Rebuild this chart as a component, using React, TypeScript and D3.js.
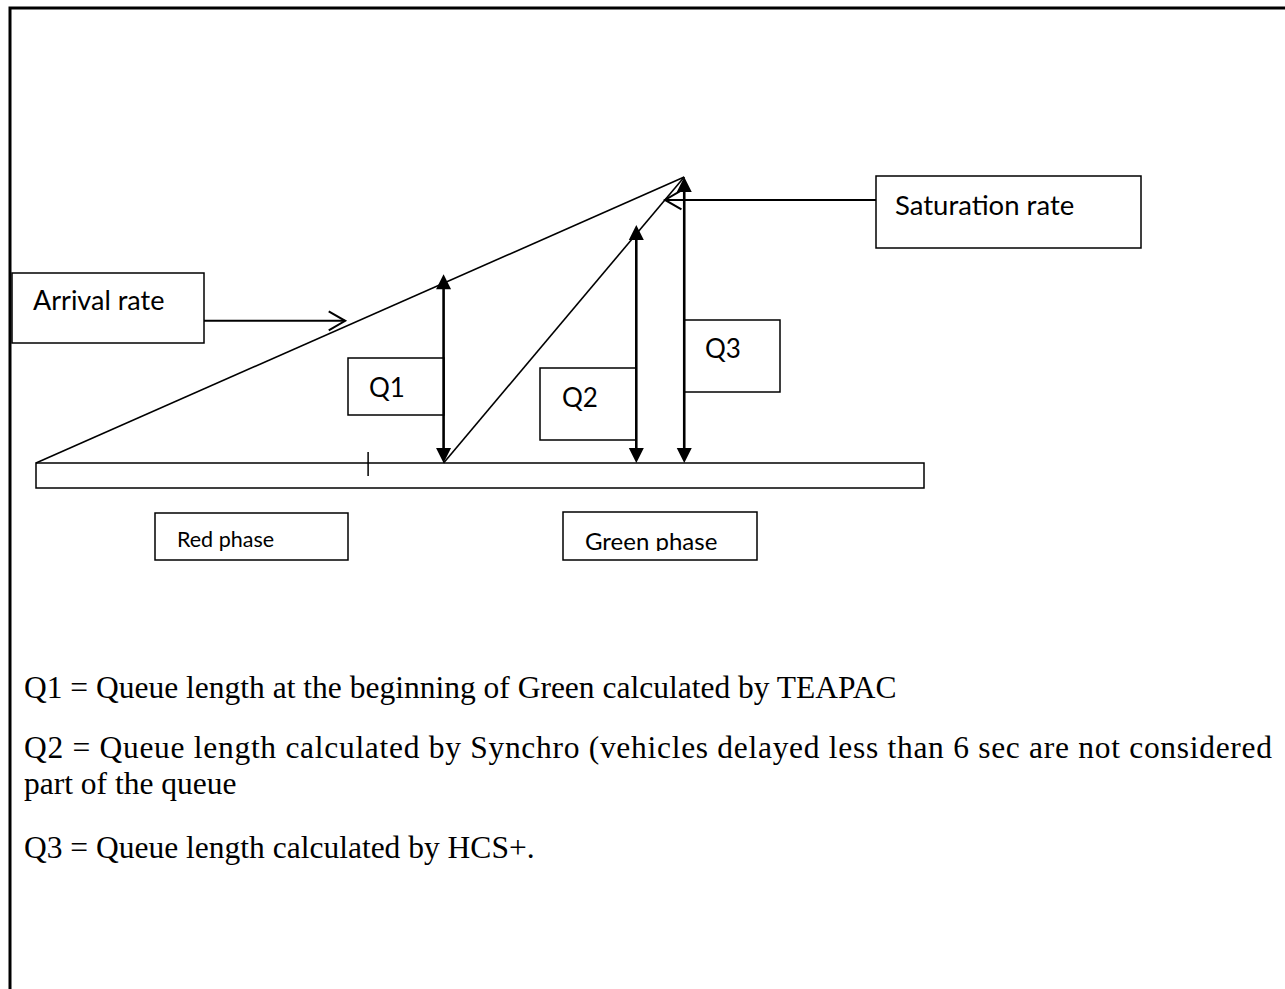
import React from 'react';
import * as d3 from 'd3';

// queue diagram values (time in % of bar, queue in % of max)
const phaseNames = ['Red phase', 'Green phase'];
const redEndTime = 37.4;
const barEndTime = 100;
const apex = { t: 73.0, q: 100 };
const queueLabels = ['Q1', 'Q2', 'Q3'];
const queueTimes = [45.9, 67.6, 73.0];
const queueTops = [66, 83.2, 100];
const saturationQueue = 92;
const arrivalArrowQueue = 49.7;
const rateLabels = ['Arrival rate', 'Saturation rate'];
const notes = [
  'Q1 = Queue length at the beginning of Green calculated by TEAPAC',
  'Q2 = Queue length calculated by Synchro (vehicles delayed less than 6 sec are not considered',
  'part of the queue',
  'Q3 = Queue length calculated by HCS+.',
];

const W = 1285;
const H = 989;
const SANS = 'Lato, "Open Sans", sans-serif';
const SERIF = '"Liberation Serif", "Times New Roman", serif';

// note lines: [baseline, justified width (0 = natural)]
const noteLayout = [
  [698, 0],
  [758, 1248],
  [794, 0],
  [858, 0],
];

const x = d3.scaleLinear().domain([0, 100]).range([36, 924]);
const y = d3.scaleLinear().domain([0, 100]).range([463, 177]);

const line = d3
  .line<[number, number]>()
  .x((d) => x(d[0]))
  .y((d) => y(d[1]));

// filled arrow head, tip at (px, py); dir = -1 up, 1 down
const head = (px: number, py: number, dir: number) => {
  const len = 15;
  const hw = 7.5;
  return `M${px},${py} L${px - hw},${py - dir * len} L${px + hw},${py - dir * len} Z`;
};

// open "v" head pointing along direction angle (radians)
const openHead = (px: number, py: number, ang: number) => {
  const len = 19;
  const spread = Math.PI / 6;
  const a1 = ang + Math.PI - spread;
  const a2 = ang + Math.PI + spread;
  return `M${px + len * Math.cos(a1)},${py + len * Math.sin(a1)} L${px},${py} L${px + len * Math.cos(a2)},${py + len * Math.sin(a2)}`;
};

// box layouts for the queue labels: [left, top, width, height, textX, baseline]
const qBoxes = [
  [348, 358, 96, 57, 369, 397],
  [540, 368, 96, 72, 562, 407],
  [684, 320, 96, 72, 705, 358],
];

export default function App() {
  const baseY = y(0);
  const arrivalT = (q: number) => (q / apex.q) * apex.t;
  const dischargeT = (q: number) =>
    queueTimes[0] + (q / apex.q) * (apex.t - queueTimes[0]);

  const arrTipX = x(arrivalT(arrivalArrowQueue)) - 13;
  const arrY = y(arrivalArrowQueue);
  const satTipX = x(dischargeT(saturationQueue));
  const satY = y(saturationQueue);

  return (
    <svg
      width={W}
      height={H}
      style={{ position: 'absolute', left: 0, top: 0, background: '#fff' }}
    >
      <defs>
        <clipPath id="greenClip">
          <rect x={563} y={512} width={194} height={39} />
        </clipPath>
      </defs>

      {/* page frame */}
      <path d={`M10,${H + 10} L10,8 L${W + 10},8`} fill="none" stroke="#000" strokeWidth={3} />

      {/* signal bar */}
      <rect
        x={x(0)}
        y={baseY}
        width={x(barEndTime) - x(0)}
        height={25}
        fill="#fff"
        stroke="#000"
        strokeWidth={1.5}
      />
      <line x1={x(redEndTime)} x2={x(redEndTime)} y1={452} y2={476} stroke="#000" strokeWidth={1.5} />

      {/* arrival and discharge lines */}
      <path d={line([[0, 0], [apex.t, apex.q]]) || ''} fill="none" stroke="#000" strokeWidth={1.6} />
      <path
        d={line([[queueTimes[0], 0], [apex.t, apex.q]]) || ''}
        fill="none"
        stroke="#000"
        strokeWidth={1.6}
      />

      {/* queue label boxes */}
      {queueLabels.map((q, i) => {
        const b = qBoxes[i];
        return (
          <g key={q}>
            <rect x={b[0]} y={b[1]} width={b[2]} height={b[3]} fill="#fff" stroke="#000" strokeWidth={1.5} />
            <text x={b[4]} y={b[5]} fontFamily={SANS} fontSize={26} fill="#000">
              {q}
            </text>
          </g>
        );
      })}

      {/* queue arrows */}
      {queueLabels.map((q, i) => {
        const px = x(queueTimes[i]);
        const top = y(queueTops[i]);
        return (
          <g key={q + 'a'}>
            <line x1={px} x2={px} y1={top + 10} y2={baseY - 10} stroke="#000" strokeWidth={2.6} />
            <path d={head(px, top, -1)} fill="#000" />
            <path d={head(px, baseY, 1)} fill="#000" />
          </g>
        );
      })}

      {/* arrival rate */}
      <rect x={12} y={273} width={192} height={70} fill="#fff" stroke="#000" strokeWidth={1.5} />
      <text x={33} y={310} fontFamily={SANS} fontSize={27} fill="#000">
        {rateLabels[0]}
      </text>
      <line x1={204} x2={arrTipX} y1={arrY} y2={arrY} stroke="#000" strokeWidth={2} />
      <path d={openHead(arrTipX, arrY, 0)} fill="none" stroke="#000" strokeWidth={2} />

      {/* saturation rate */}
      <rect x={876} y={176} width={265} height={72} fill="#fff" stroke="#000" strokeWidth={1.5} />
      <text x={895} y={215} fontFamily={SANS} fontSize={27.5} fill="#000">
        {rateLabels[1]}
      </text>
      <line x1={876} x2={satTipX} y1={satY} y2={satY} stroke="#000" strokeWidth={2} />
      <path d={openHead(satTipX, satY, Math.PI)} fill="none" stroke="#000" strokeWidth={2} />

      {/* phase labels */}
      <rect x={155} y={513} width={193} height={47} fill="#fff" stroke="#000" strokeWidth={1.5} />
      <text x={177} y={547} fontFamily={SANS} fontSize={21.5} fill="#000">
        {phaseNames[0]}
      </text>
      <rect x={563} y={512} width={194} height={48} fill="#fff" stroke="#000" strokeWidth={1.5} />
      <text x={585} y={550} fontFamily={SANS} fontSize={24} fill="#000" clipPath="url(#greenClip)">
        {phaseNames[1]}
      </text>

      {/* notes */}
      {notes.map((n, i) => (
        <text
          key={i}
          x={24}
          y={noteLayout[i][0]}
          fontFamily={SERIF}
          fontSize={31.5}
          fill="#000"
          {...(noteLayout[i][1]
            ? { textLength: noteLayout[i][1], lengthAdjust: 'spacing' }
            : {})}
        >
          {n}
        </text>
      ))}
    </svg>
  );
}
